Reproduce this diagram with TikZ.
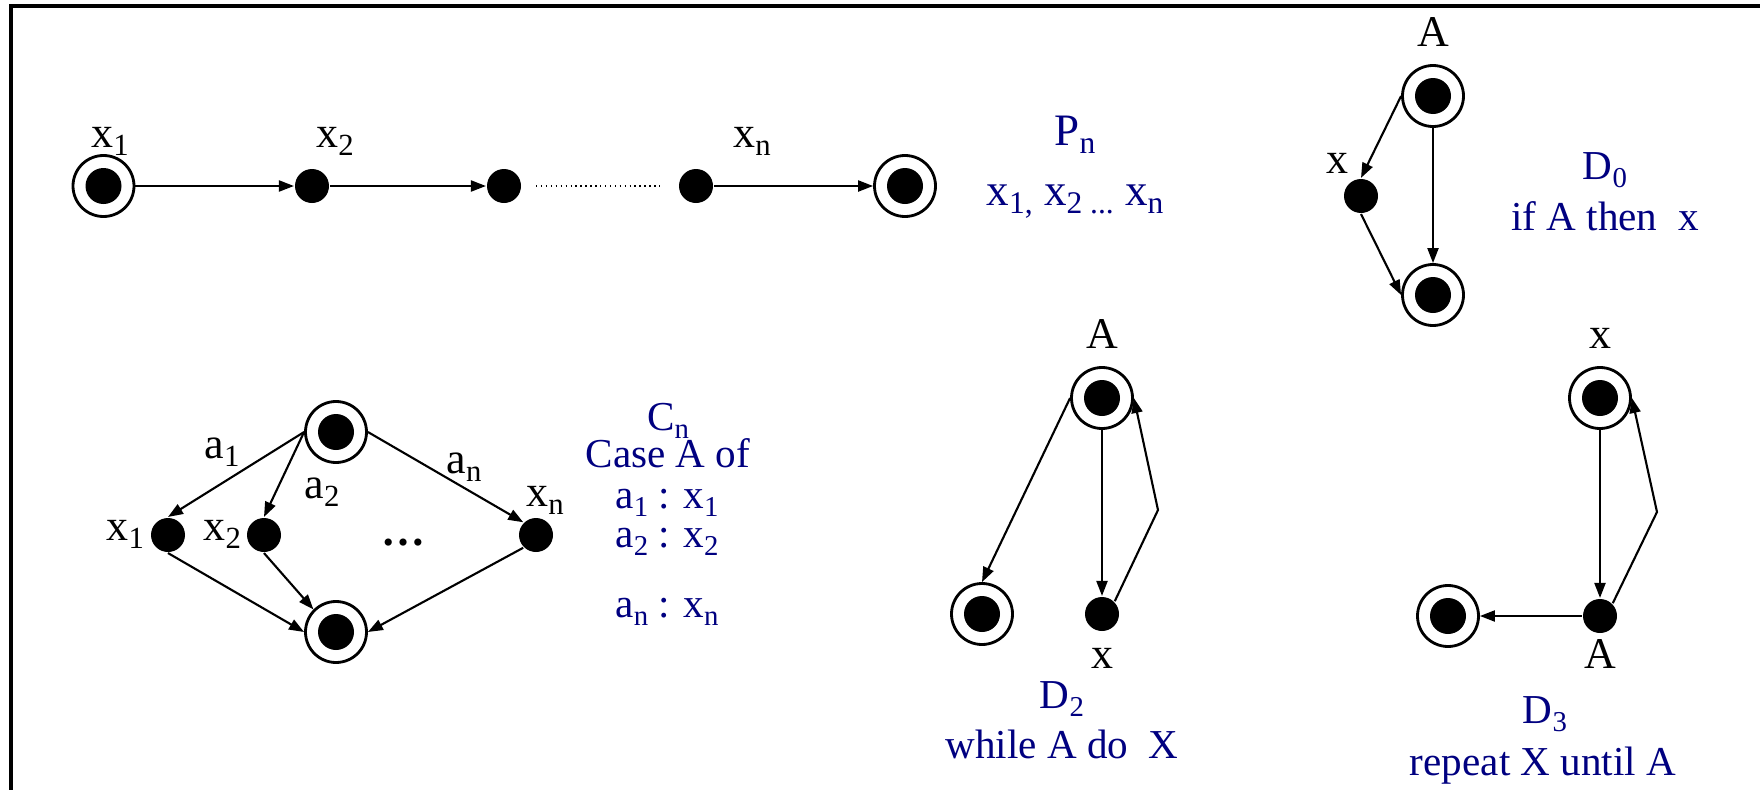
\documentclass[tikz,border=0pt]{standalone}
\usepackage{fontspec}
\setmainfont{Liberation Serif}
\usepackage{graphicx}
\usetikzlibrary{arrows.meta}
\definecolor{capblue}{RGB}{0,0,128}
\newcommand{\lsub}[1]{\raisebox{-0.2em}{\scalebox{0.7}{#1}}}

\begin{document}
\begin{tikzpicture}[>={Triangle[length=1.5mm,width=1.1mm]}, line width=0.6pt,
  term/.style={circle, draw, line width=0.8pt, minimum size=6.1mm, inner sep=0pt,
    path picture={\fill (path picture bounding box.center) circle (1.8mm);}},
  dot/.style={circle, fill, minimum size=3.4mm, inner sep=0pt},
  lbl/.style={font=\fontsize{12.5}{15}\selectfont, inner sep=0pt, anchor=base},
  captxt/.style={text=capblue, font=\fontsize{11.7}{14}\selectfont, inner sep=0pt, anchor=base}]
  \useasboundingbox (0,0) rectangle (17.6,7.9);
  % frame
  \draw[line width=0.9pt] (17.6,7.84) -- (0.11,7.84) -- (0.11,0);

  % sequence P_n
  \node[term] (p0) at (1.035,6.04) {};
  \node[dot] (p1) at (3.12,6.04) {};
  \node[dot] (p2) at (5.04,6.04) {};
  \node[dot] (p3) at (6.96,6.04) {};
  \node[term] (p4) at (9.05,6.04) {};
  \draw[->] (p0) -- (p1);
  \draw[->] (p1) -- (p2);
  \draw[densely dotted, line width=0.4pt, shorten <=1.4mm, shorten >=1.8mm] (p2) -- (p3);
  \draw[->] (p3) -- (p4);
  \node[lbl] (lp0) at (1.10,6.43) {x\lsub{1}};
  \node[lbl] (lp1) at (3.35,6.43) {x\lsub{2}};
  \node[lbl] (lp3) at (7.52,6.43) {x\lsub{n}};
  \node[captxt, font=\fontsize{12.8}{15}\selectfont] (pn) at (10.75,6.45) {P\lsub{n}};
  \node[captxt, font=\fontsize{12.8}{15}\selectfont] (pnseq) at (10.75,5.85) {x\lsub{1,} x\lsub{2 ...} x\lsub{n}};

  % D_0
  \node[term] (d0top) at (14.33,6.94) {};
  \node[dot] (d0x) at (13.61,5.94) {};
  \node[term] (d0bot) at (14.33,4.95) {};
  \draw[->] (d0top.west) -- (d0x.north);
  \draw[->] (d0top) -- (d0bot);
  \draw[->] (d0x.south) -- (d0bot.west);
  \node[lbl] (ld0top) at (14.33,7.44) {A};
  \node[lbl] (ld0x) at (13.37,6.17) {x};
  \node[captxt] (d0) at (16.05,6.11) {D\lsub{0}};
  \node[captxt] (d0txt) at (16.05,5.60) {if A then~ x};

  % C_n
  \node[term] (ctop) at (3.36,3.58) {};
  \node[dot] (cx1) at (1.68,2.55) {};
  \node[dot] (cx2) at (2.64,2.55) {};
  \node[dot] (cxn) at (5.36,2.55) {};
  \node[term] (cbot) at (3.36,1.58) {};
  \draw[->] (ctop.west) -- (cx1.north);
  \draw[->] (ctop.west) -- (cx2.north);
  \draw[->] (ctop.east) -- (cxn.north west);
  \draw[->] (cx1.south) -- (cbot.west);
  \draw[->] (cx2.south) -- (cbot.north west);
  \draw[->] (cxn.south west) -- (cbot.east);
  \node[lbl, anchor=base east] (lcx1) at (1.45,2.50) {x\lsub{1}};
  \node[lbl, anchor=base east] (lcx2) at (2.42,2.50) {x\lsub{2}};
  \node[lbl] (lcxn) at (5.45,2.84) {x\lsub{n}};
  \node[lbl] (la1) at (2.22,3.32) {a\lsub{1}};
  \node[lbl] (la2) at (3.22,2.92) {a\lsub{2}};
  \node[lbl] (lan) at (4.64,3.17) {a\lsub{n}};
  \node[lbl] (cdots) at (4.03,2.45) {\bfseries …};
  \node[captxt] (cn) at (6.68,3.60) {C\lsub{n}};
  \node[captxt] (cncase) at (6.68,3.23) {Case A of};
  \node[captxt] (cn1) at (6.67,2.82) {a\lsub{1} : x\lsub{1}};
  \node[captxt] (cn2) at (6.67,2.43) {a\lsub{2} : x\lsub{2}};
  \node[captxt] (cnn) at (6.67,1.73) {a\lsub{n} : x\lsub{n}};

  % D_2
  \node[term] (d2top) at (11.02,3.92) {};
  \node[term] (d2exit) at (9.82,1.76) {};
  \node[dot] (d2x) at (11.02,1.76) {};
  \coordinate (d2bend) at (11.58,2.80);
  \draw[->] (d2top.west) -- (d2exit.north);
  \draw[->] (d2top) -- (d2x);
  \draw[->] (d2x.north east) -- (d2bend) -- (d2top.east);
  \node[lbl] (ld2top) at (11.02,4.42) {A};
  \node[lbl] (ld2x) at (11.02,1.22) {x};
  \node[captxt] (d2) at (10.62,0.82) {D\lsub{2}};
  \node[captxt] (d2txt) at (10.62,0.32) {while A do~ X};

  % D_3
  \node[term] (d3top) at (16.00,3.92) {};
  \node[dot] (d3a) at (16.00,1.74) {};
  \node[term] (d3exit) at (14.48,1.74) {};
  \coordinate (d3bend) at (16.57,2.78);
  \draw[->] (d3top) -- (d3a);
  \draw[->] (d3a) -- (d3exit);
  \draw[->] (d3a.north east) -- (d3bend) -- (d3top.east);
  \node[lbl] (ld3top) at (16.00,4.42) {x};
  \node[lbl] (ld3a) at (16.00,1.22) {A};
  \node[captxt] (d3) at (15.45,0.67) {D\lsub{3}};
  \node[captxt] (d3txt) at (15.43,0.15) {repeat X until A};
\end{tikzpicture}
\end{document}
